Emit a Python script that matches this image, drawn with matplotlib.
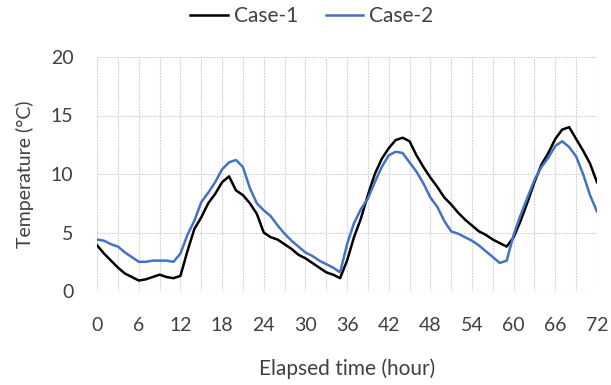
import matplotlib
matplotlib.use("Agg")
import matplotlib.pyplot as plt
import numpy as np

hours = list(range(0, 73))
case1 = [3.9, 3.2, 2.6, 2.0, 1.5, 1.2, 0.9, 1.0, 1.2, 1.4, 1.2, 1.1, 1.3,
         3.4, 5.3, 6.3, 7.5, 8.3, 9.3, 9.8, 8.6, 8.2, 7.5, 6.6, 5.0, 4.6,
         4.4, 4.0, 3.6, 3.1, 2.8, 2.4, 2.0, 1.6, 1.4, 1.1, 2.6, 4.6, 6.2,
         8.2, 10.0, 11.3, 12.2, 12.9, 13.1, 12.8, 11.6, 10.6, 9.7, 8.9, 8.0,
         7.4, 6.7, 6.1, 5.6, 5.1, 4.8, 4.4, 4.1, 3.8, 4.6, 6.0, 7.6, 9.3,
         10.8, 11.8, 13.0, 13.8, 14.0, 13.0, 12.0, 10.9, 9.3]
case2 = [4.4, 4.3, 4.0, 3.8, 3.3, 2.9, 2.5, 2.5, 2.6, 2.6, 2.6, 2.5, 3.2,
         4.8, 6.0, 7.6, 8.4, 9.3, 10.4, 11.0, 11.2, 10.6, 8.8, 7.5, 6.9,
         6.4, 5.6, 4.9, 4.3, 3.8, 3.3, 3.0, 2.6, 2.3, 2.0, 1.6, 4.0, 5.8,
         7.0, 7.9, 9.3, 10.6, 11.6, 11.9, 11.8, 11.0, 10.2, 9.2, 8.0, 7.2,
         6.0, 5.1, 4.9, 4.6, 4.3, 3.9, 3.4, 2.9, 2.4, 2.6, 4.8, 6.5, 8.0,
         9.5, 10.6, 11.4, 12.4, 12.8, 12.3, 11.5, 10.0, 8.2, 6.8]
xticks = list(range(0, 73, 6))
yticks = [0, 5, 10, 15, 20]

plt.rcParams['font.family'] = ['Lato', 'DejaVu Sans']
txt = '#404040'
gc = '#D0D0D0'
gls = (0, (1.5, 1))

fig = plt.figure(figsize=(6.11, 3.85), dpi=100)
ax = fig.add_axes([0.159, 0.244, 0.818, 0.608])

ax.plot(hours, case1, color='black', lw=1.8, label='Case-1')
ax.plot(hours, case2, color='#4472C4', lw=1.8, label='Case-2')

ax.set_xlim(0, 72)
ax.set_ylim(0, 20)
ax.set_xticks(xticks)
ax.set_yticks(yticks)
ax.set_xticks(np.arange(0, 73, 3), minor=True)
for s in ax.spines.values():
    s.set_visible(False)
ax.grid(True, which='both', axis='x', color=gc, lw=0.8, ls=gls)
ax.grid(True, which='major', axis='y', color=gc, lw=0.8, ls=gls)
ax.tick_params(which='both', length=0, labelsize=14, colors=txt)
ax.tick_params(axis='x', pad=19)
ax.tick_params(axis='y', pad=17)
ax.set_axisbelow(True)

ax.set_xlabel('Elapsed time (hour)', fontsize=15, color=txt, labelpad=17)
ax.set_ylabel('Temperature (°C)', fontsize=14, color=txt, labelpad=12)

fig.legend(loc='center', bbox_to_anchor=(312/611, 1-16/385), ncol=2, frameon=False,
           fontsize=15, handlelength=1.8, columnspacing=1.3, handletextpad=0.3,
           labelcolor=txt)

fig.savefig('out.png', dpi=100)
